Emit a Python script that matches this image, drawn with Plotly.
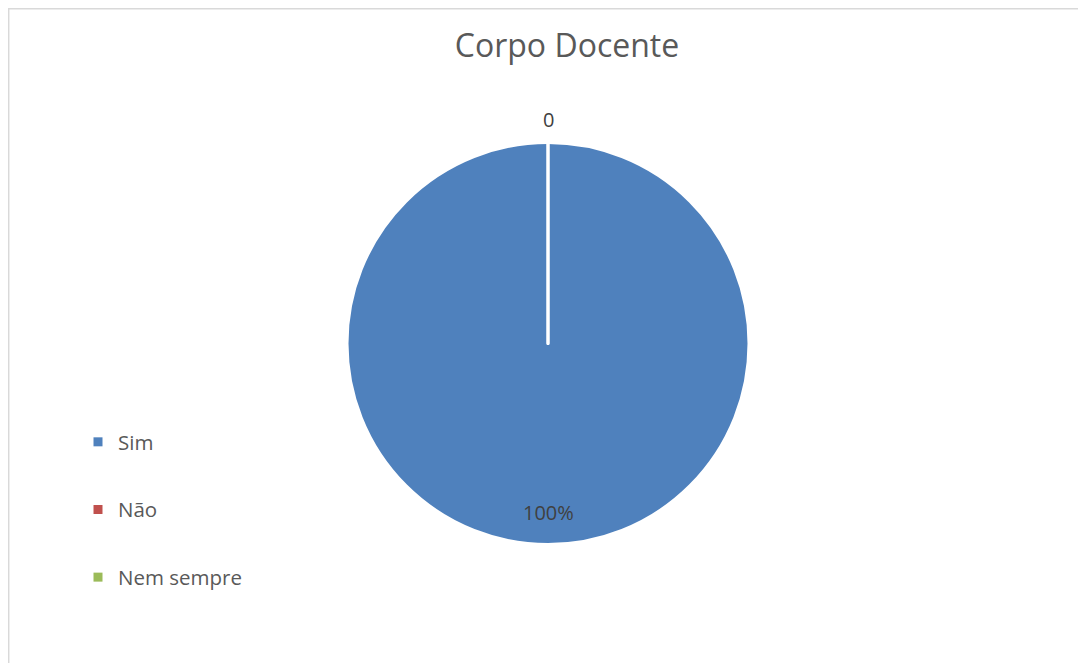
import plotly.graph_objects as go

labels = ["Sim", "Não", "Nem sempre"]
values = [100, 0, 0]
colors = ["#4F81BD", "#C0504D", "#9BBB59"]

W, H = 1086, 663
OFF = 8  # page body margin offset

# pie placement (figure pixels)
PIE_L, PIE_R, PIE_T, PIE_B = 347 - OFF, 749 - OFF, 142 - OFF, 545 - OFF
cx = (PIE_L + PIE_R) / 2 / W
cy = 1 - (PIE_T + PIE_B) / 2 / H
R = (PIE_B - PIE_T) / 2 / H

fig = go.Figure()

fig.add_trace(go.Pie(
    labels=labels, values=values, sort=False, direction="clockwise", rotation=0,
    marker=dict(colors=colors, line=dict(color="white", width=3)),
    textinfo="none",
    showlegend=False, hoverinfo="label+value",
    domain=dict(x=[PIE_L / W, PIE_R / W], y=[1 - PIE_B / H, 1 - PIE_T / H]),
))

for lab, col in zip(labels, colors):
    fig.add_trace(go.Scatter(
        x=[None], y=[None], mode="markers", name=lab, legendgroup=lab,
        marker=dict(symbol="square", size=9, color=col),
    ))

total = sum(values)
label_font = dict(family="Open Sans", size=20, color="#404040")
annotations = [
    # data label of the full slice, placed inside near the bottom
    dict(text=f"{values[0] / total:.0%}", x=cx, y=cy - 0.84 * R, xref="paper", yref="paper",
         showarrow=False, font=label_font, xanchor="center", yanchor="middle"),
    # data label of the zero-value slices, outside at the top
    dict(text=f"{values[1]}", x=cx, y=cy + R + 22 / H, xref="paper", yref="paper",
         showarrow=False, font=label_font, xanchor="center", yanchor="middle"),
]

fig.update_layout(
    width=W, height=H,
    margin=dict(l=0, r=0, t=0, b=0),
    paper_bgcolor="white", plot_bgcolor="white",
    title=dict(text="Corpo Docente", x=(567 - OFF) / W, xanchor="center",
               y=1 - (46 - OFF) / H, yanchor="middle",
               font=dict(family="Open Sans", size=32, color="#595959")),
    xaxis=dict(visible=False), yaxis=dict(visible=False),
    legend=dict(x=(78 - OFF) / W, xanchor="left", y=1 - (422 - OFF) / H, yanchor="top",
                traceorder="grouped", tracegroupgap=38, itemwidth=30,
                font=dict(family="Open Sans", size=20.5, color="#595959"),
                bgcolor="rgba(0,0,0,0)"),
    annotations=annotations,
    shapes=[dict(type="rect", xref="paper", yref="paper",
                 x0=0.7 / W, x1=1.05, y0=-0.05, y1=1 - 0.7 / H,
                 line=dict(color="#D9D9D9", width=1.5), fillcolor="rgba(0,0,0,0)", layer="below")],
)

fig.write_html("out.html")
